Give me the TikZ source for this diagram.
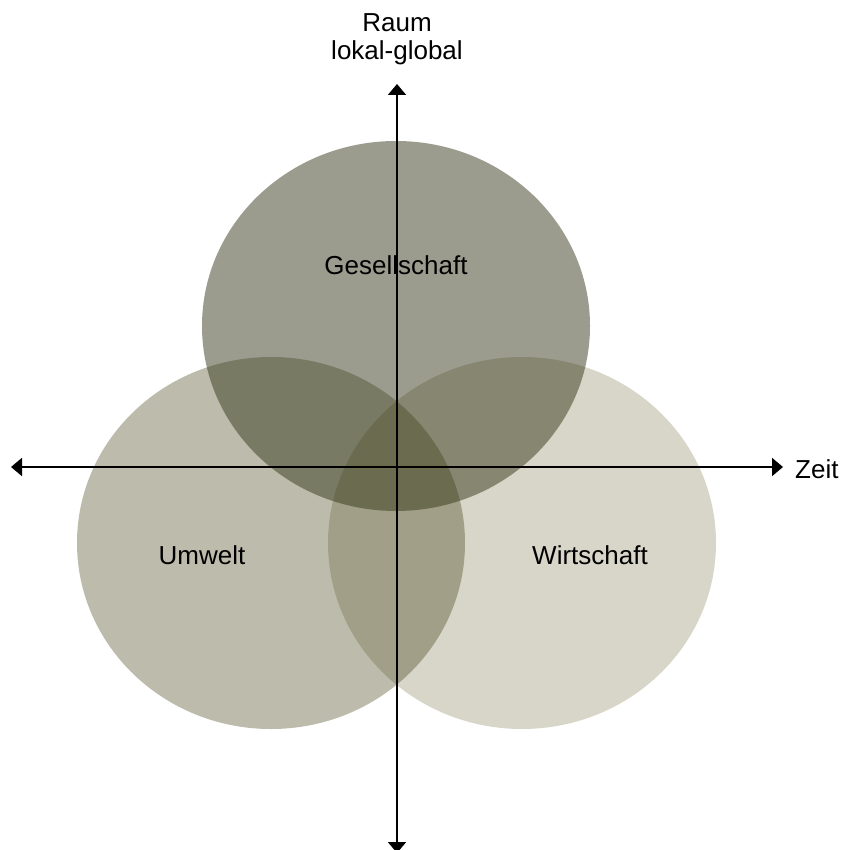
\documentclass[tikz,border=0pt]{standalone}
\usepackage{fontspec}
\setmainfont{Liberation Sans}
\usetikzlibrary{arrows.meta}
\definecolor{cW}{RGB}{95,91,35}
\definecolor{cU}{RGB}{54,51,6}
\definecolor{cG}{RGB}{55,57,27}
\tikzset{
  lbl/.style={font=\fontsize{26}{30}\selectfont, text=black, inner sep=0pt},
  axis/.style={line width=1.8pt, {Triangle[length=11pt,width=18pt]}-{Triangle[length=11pt,width=18pt]}}
}
\begin{document}
\begin{tikzpicture}[x=1pt,y=-1pt]
\useasboundingbox (0,0) rectangle (850,850);
\fill[cW, opacity=0.25] (522,543) ellipse [x radius=194, y radius=186];
\fill[cU, opacity=0.333] (271,543) ellipse [x radius=194, y radius=186];
\fill[cG, opacity=0.5] (396,326) ellipse [x radius=194, y radius=185];
\coordinate (L) at (11,467);
\coordinate (R) at (783,467);
\coordinate (T) at (397,84);
\coordinate (B) at (397,853);
\draw[axis] (L) -- (R);
\draw[axis] (B) -- (T);
\node[lbl] (raum) at (397,23) {Raum};
\node[lbl] (lok) at (397,53) {lokal-global};
\node[lbl, anchor=west] (zeit) at (795,469) {Zeit};
\node[lbl] (ges) at (396,265) {Gesellschaft};
\node[lbl] (umw) at (202,555) {Umwelt};
\node[lbl] (wir) at (590,555) {Wirtschaft};
\end{tikzpicture}
\end{document}
